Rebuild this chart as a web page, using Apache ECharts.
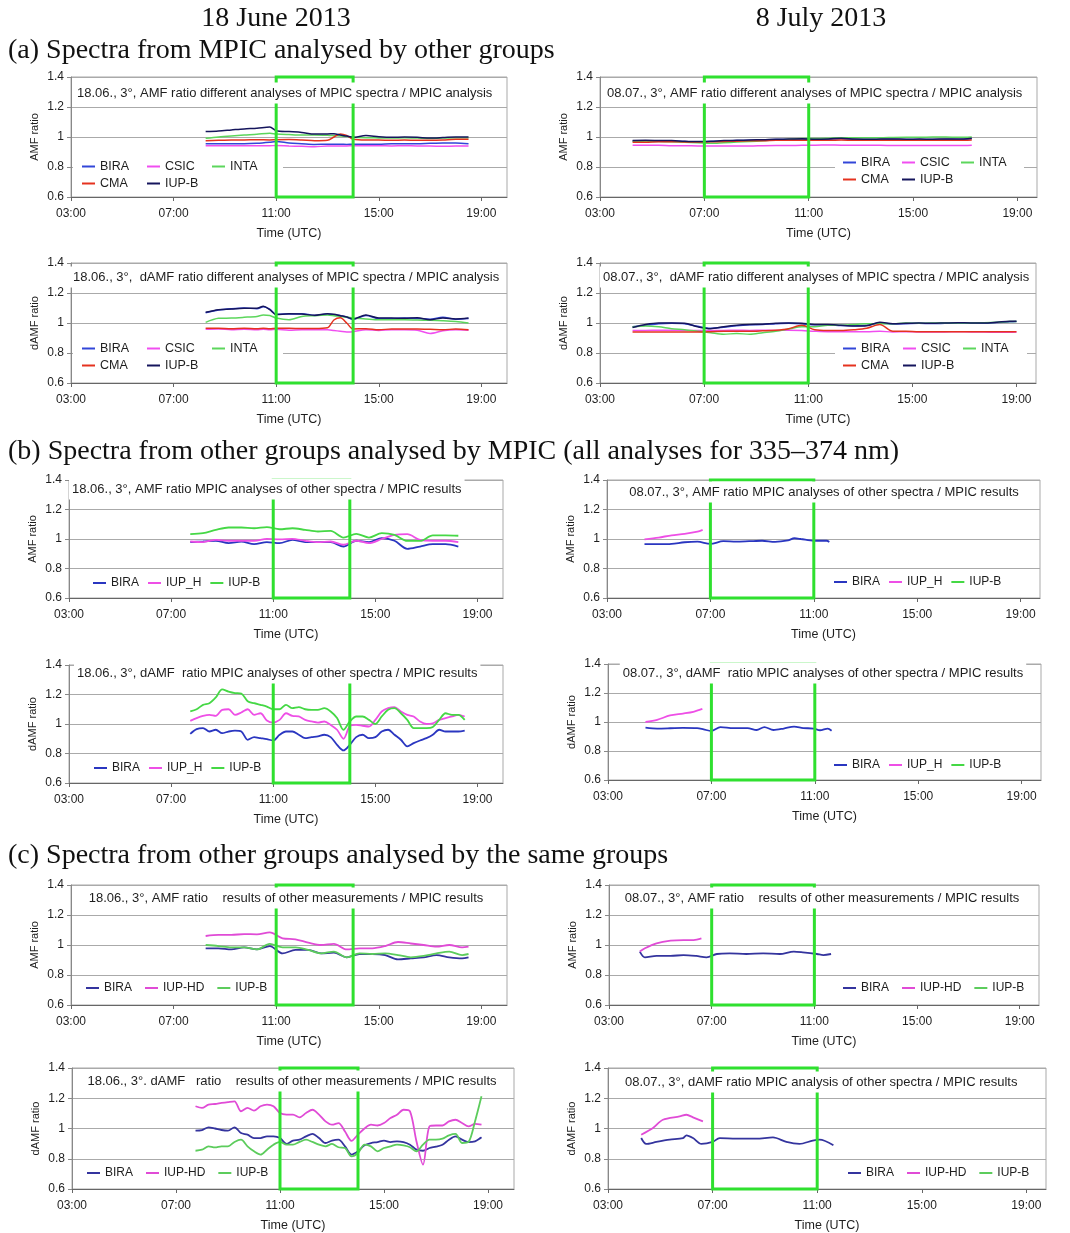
<!DOCTYPE html>
<html>
<head>
<meta charset="utf-8">
<script src="https://cdn.jsdelivr.net/npm/echarts@6/dist/echarts.min.js"></script>
<style>
  html, body { margin: 0; padding: 0; background: #fff; }
  #chart { width: 1070px; height: 1233px; }
</style>
</head>
<body>
<div id="chart"></div>
<script>
// ---------------------------------------------------------------
// Tick values
// ---------------------------------------------------------------
const hourTicks = [3, 7, 11, 15, 19];

// Highlighted periods (hours UTC)
const box18 = [11, 14];
const box08 = [7, 11];

// ---------------------------------------------------------------
// (a) Spectra from MPIC analysed by other groups
// ---------------------------------------------------------------
// 18 June, AMF ratio
const tA18amf = [8.25, 8.75, 9.25, 9.75, 10.25, 10.75, 11.0, 11.5, 12.0, 12.5, 13.0, 13.25, 13.5, 13.75, 14.0, 14.5, 15.0, 15.5, 16.0, 16.5, 17.0, 17.5, 18.0, 18.5];
const a18amfBIRA = [0.955, 0.955, 0.955, 0.955, 0.958, 0.965, 0.970, 0.960, 0.955, 0.950, 0.952, 0.952, 0.952, 0.950, 0.952, 0.952, 0.952, 0.955, 0.955, 0.955, 0.958, 0.960, 0.960, 0.955];
const a18amfCSIC = [0.942, 0.942, 0.942, 0.942, 0.942, 0.942, 0.943, 0.940, 0.938, 0.935, 0.940, 0.940, 0.940, 0.940, 0.942, 0.942, 0.942, 0.940, 0.942, 0.940, 0.940, 0.938, 0.940, 0.940];
const a18amfINTA = [0.991, 1.000, 1.007, 1.013, 1.018, 1.025, 1.020, 1.016, 1.013, 1.013, 1.011, 1.010, 1.007, 1.003, 0.998, 0.995, 0.994, 0.993, 0.995, 0.993, 0.990, 0.993, 0.995, 0.995];
const a18amfCMA  = [0.975, 0.978, 0.980, 0.980, 0.982, 0.980, 0.982, 0.983, 0.980, 0.975, 0.978, 1.000, 1.020, 1.010, 0.985, 0.980, 0.980, 0.978, 0.980, 0.978, 0.978, 0.980, 0.985, 0.985];
const a18amfIUPB = [1.036, 1.040, 1.047, 1.054, 1.058, 1.066, 1.042, 1.036, 1.030, 1.020, 1.020, 1.022, 1.013, 1.006, 0.998, 1.010, 1.002, 0.998, 1.000, 0.998, 0.993, 0.996, 1.000, 1.000];

// 18 June, dAMF ratio
const tA18damf = [8.25, 8.75, 9.25, 9.75, 10.25, 10.5, 10.75, 11.0, 11.5, 12.0, 12.5, 13.0, 13.25, 13.5, 13.75, 14.0, 14.5, 15.0, 15.5, 16.0, 16.5, 17.0, 17.5, 18.0, 18.5];
const a18damfBIRA = [1.068, 1.086, 1.095, 1.100, 1.095, 1.108, 1.092, 1.058, 1.060, 1.062, 1.050, 1.060, 1.055, 1.050, 1.038, 1.025, 1.050, 1.030, 1.030, 1.033, 1.030, 1.025, 1.038, 1.025, 1.030];
const a18damfCSIC = [0.958, 0.960, 0.955, 0.958, 0.955, 0.958, 0.955, 0.958, 0.952, 0.955, 0.955, 0.955, 0.950, 0.945, 0.940, 0.942, 0.955, 0.950, 0.955, 0.955, 0.952, 0.930, 0.948, 0.955, 0.952];
const a18damfINTA = [1.004, 1.031, 1.033, 1.038, 1.044, 1.053, 1.050, 1.033, 1.022, 1.044, 1.049, 1.053, 1.049, 1.044, 1.040, 1.033, 1.027, 1.022, 1.022, 1.022, 1.020, 1.018, 1.015, 1.010, 1.000];
const a18damfCMA  = [0.965, 0.965, 0.962, 0.965, 0.962, 0.965, 0.962, 0.965, 0.965, 0.963, 0.963, 0.968, 1.020, 1.035, 1.000, 0.960, 0.962, 0.955, 0.960, 0.960, 0.960, 0.958, 0.955, 0.960, 0.955];
const a18damfIUPB = [1.071, 1.089, 1.093, 1.098, 1.098, 1.111, 1.089, 1.056, 1.062, 1.060, 1.051, 1.062, 1.058, 1.049, 1.040, 1.027, 1.053, 1.033, 1.033, 1.031, 1.035, 1.022, 1.033, 1.027, 1.033];

// 8 July, AMF ratio
const tA08amf = [4.25, 4.75, 5.25, 5.75, 6.25, 6.75, 7.25, 7.75, 8.25, 8.75, 9.25, 9.75, 10.25, 10.75, 11.25, 11.75, 12.25, 12.75, 13.25, 13.75, 14.25, 14.75, 15.25, 15.75, 16.25, 16.75, 17.25];
const a08amfBIRA = [0.974, 0.975, 0.975, 0.974, 0.970, 0.968, 0.970, 0.973, 0.976, 0.978, 0.980, 0.983, 0.984, 0.985, 0.984, 0.985, 0.988, 0.984, 0.983, 0.984, 0.985, 0.983, 0.984, 0.983, 0.985, 0.984, 0.988];
const a08amfCSIC = [0.945, 0.945, 0.945, 0.942, 0.942, 0.940, 0.940, 0.940, 0.940, 0.940, 0.942, 0.943, 0.943, 0.945, 0.945, 0.947, 0.945, 0.945, 0.945, 0.945, 0.943, 0.943, 0.943, 0.943, 0.943, 0.943, 0.945];
const a08amfINTA = [0.970, 0.972, 0.970, 0.968, 0.965, 0.962, 0.958, 0.962, 0.966, 0.970, 0.975, 0.980, 0.985, 0.990, 0.990, 0.992, 0.995, 0.995, 0.995, 0.995, 0.997, 0.998, 0.998, 1.000, 1.000, 0.998, 1.000];
const a08amfCMA  = [0.965, 0.965, 0.968, 0.968, 0.967, 0.967, 0.968, 0.970, 0.972, 0.975, 0.975, 0.978, 0.978, 0.978, 0.978, 0.978, 0.980, 0.978, 0.978, 0.978, 0.978, 0.978, 0.978, 0.978, 0.978, 0.978, 0.980];
const a08amfIUPB = [0.977, 0.978, 0.977, 0.976, 0.972, 0.970, 0.972, 0.976, 0.978, 0.980, 0.982, 0.985, 0.986, 0.988, 0.985, 0.987, 0.992, 0.986, 0.985, 0.986, 0.987, 0.985, 0.986, 0.985, 0.987, 0.986, 0.992];

// 8 July, dAMF ratio
const tA08damf = [4.25, 4.75, 5.25, 5.75, 6.25, 6.75, 7.25, 7.75, 8.25, 8.75, 9.25, 9.75, 10.25, 10.75, 11.25, 11.75, 12.25, 12.75, 13.25, 13.75, 14.25, 14.75, 15.25, 15.75, 16.25, 16.75, 17.25, 17.75, 18.25, 18.75, 19.0];
const a08damfBIRA = [0.975, 0.985, 0.995, 0.998, 0.995, 0.978, 0.965, 0.972, 0.982, 0.988, 0.990, 0.995, 0.998, 0.995, 0.988, 0.988, 0.983, 0.982, 0.985, 1.000, 0.993, 0.995, 0.998, 0.996, 0.998, 1.000, 0.998, 0.998, 1.003, 1.008, 1.010];
const a08damfCSIC = [0.950, 0.950, 0.952, 0.952, 0.950, 0.950, 0.950, 0.950, 0.952, 0.950, 0.952, 0.950, 0.952, 0.950, 0.945, 0.942, 0.942, 0.942, 0.942, 0.945, 0.940, 0.942, 0.940, 0.940, 0.940, 0.942, 0.940, 0.940, 0.938, 0.938, 0.940];
const a08damfINTA = [0.975, 0.980, 0.975, 0.962, 0.955, 0.945, 0.935, 0.925, 0.930, 0.925, 0.935, 0.945, 0.960, 0.975, 0.975, 0.985, 0.985, 0.990, 0.995, 0.995, 0.995, 1.000, 0.998, 1.000, 1.000, 1.000, 1.000, 1.002, 1.005, 1.010, 1.010];
const a08damfCMA  = [0.940, 0.940, 0.940, 0.940, 0.940, 0.940, 0.942, 0.945, 0.945, 0.945, 0.948, 0.952, 0.962, 0.985, 0.955, 0.950, 0.950, 0.955, 0.965, 0.990, 0.945, 0.945, 0.942, 0.942, 0.942, 0.942, 0.942, 0.942, 0.942, 0.942, 0.942];
const a08damfIUPB = [0.970, 0.990, 1.000, 1.000, 0.998, 0.975, 0.962, 0.975, 0.985, 0.990, 0.992, 0.998, 1.000, 0.998, 0.990, 0.990, 0.985, 0.980, 0.982, 1.005, 0.995, 0.998, 1.000, 0.998, 1.000, 1.002, 1.000, 1.000, 1.005, 1.012, 1.012];

// ---------------------------------------------------------------
// (b) Spectra from other groups analysed by MPIC
// ---------------------------------------------------------------
const tB18amf = [7.75, 8.25, 8.75, 9.25, 9.75, 10.25, 10.75, 11.25, 11.75, 12.25, 12.75, 13.25, 13.75, 14.25, 14.75, 15.25, 15.75, 16.25, 16.75, 17.25, 17.75, 18.25];
const b18amfBIRA = [0.979, 0.983, 0.988, 0.972, 0.983, 0.965, 0.979, 0.972, 0.994, 0.979, 0.979, 0.979, 0.949, 0.988, 0.979, 1.006, 0.988, 0.933, 0.949, 0.965, 0.965, 0.949];
const b18amfIUPH = [0.983, 0.979, 0.994, 0.988, 0.988, 0.988, 1.001, 0.997, 1.001, 0.988, 0.979, 0.983, 0.961, 0.988, 0.972, 1.000, 1.028, 1.033, 0.994, 0.988, 0.988, 0.979];
const b18amfIUPB = [1.033, 1.040, 1.062, 1.078, 1.078, 1.073, 1.080, 1.066, 1.073, 1.062, 1.051, 1.055, 1.010, 1.035, 1.010, 1.040, 1.028, 0.987, 0.987, 1.024, 1.024, 1.022];

const tB18damf = [7.75, 8.0, 8.25, 8.5, 8.75, 9.0, 9.25, 9.5, 9.75, 10.0, 10.25, 10.5, 10.75, 11.0, 11.25, 11.5, 11.75, 12.0, 12.25, 12.5, 12.75, 13.0, 13.25, 13.5, 13.75, 14.0, 14.25, 14.5, 14.75, 15.0, 15.25, 15.5, 15.75, 16.0, 16.25, 16.5, 16.75, 17.0, 17.25, 17.5, 17.75, 18.0, 18.25, 18.5];
const b18damfBIRA = [0.933, 0.965, 0.972, 0.949, 0.961, 0.938, 0.949, 0.955, 0.949, 0.893, 0.911, 0.904, 0.897, 0.888, 0.927, 0.949, 0.949, 0.927, 0.904, 0.911, 0.916, 0.927, 0.911, 0.859, 0.821, 0.859, 0.911, 0.927, 0.904, 0.911, 0.949, 0.961, 0.927, 0.893, 0.848, 0.870, 0.888, 0.904, 0.927, 0.961, 0.949, 0.949, 0.949, 0.955];
const b18damfIUPH = [1.021, 1.040, 1.055, 1.062, 1.055, 1.096, 1.100, 1.062, 1.078, 1.100, 1.062, 1.073, 1.024, 1.010, 1.028, 1.073, 1.055, 1.051, 1.028, 1.017, 1.010, 1.017, 0.994, 0.961, 0.900, 0.985, 0.994, 0.988, 0.983, 1.028, 1.085, 1.107, 1.114, 1.085, 1.062, 1.051, 1.017, 1.000, 1.005, 1.028, 1.040, 1.051, 1.062, 1.051];
const b18damfIUPB = [1.085, 1.100, 1.130, 1.141, 1.180, 1.235, 1.220, 1.210, 1.206, 1.154, 1.141, 1.130, 1.118, 1.100, 1.100, 1.130, 1.107, 1.114, 1.100, 1.096, 1.096, 1.107, 1.085, 1.040, 0.961, 1.017, 1.051, 1.051, 1.028, 1.000, 1.051, 1.096, 1.107, 1.073, 1.028, 0.972, 0.972, 0.972, 0.979, 1.028, 1.073, 1.062, 1.062, 1.028];

const tB08amfBIRA = [4.45, 5.0, 5.5, 6.0, 6.5, 7.0, 7.5, 8.0, 8.5, 9.0, 9.5, 10.0, 10.25, 10.5, 11.0, 11.5, 11.6];
const b08amfBIRA  = [0.965, 0.965, 0.967, 0.978, 0.982, 0.967, 0.985, 0.982, 0.985, 0.988, 0.980, 0.990, 1.005, 1.000, 0.988, 0.988, 0.980];
const tB08amfIUPH = [4.45, 5.0, 5.5, 6.0, 6.5, 6.7];
const b08amfIUPH  = [0.997, 1.010, 1.025, 1.035, 1.050, 1.062];

const tB08damfBIRA = [4.45, 4.9, 5.4, 5.9, 6.45, 6.7, 7.0, 7.35, 7.85, 8.4, 8.75, 9.05, 9.4, 9.8, 10.2, 10.55, 10.95, 11.2, 11.5, 11.65];
const b08damfBIRA  = [0.961, 0.955, 0.957, 0.960, 0.958, 0.949, 0.938, 0.965, 0.958, 0.958, 0.945, 0.965, 0.945, 0.955, 0.968, 0.958, 0.955, 0.943, 0.955, 0.940];
const tB08damfIUPH = [4.45, 4.9, 5.4, 5.9, 6.3, 6.65];
const b08damfIUPH  = [1.000, 1.015, 1.045, 1.058, 1.070, 1.090];

// ---------------------------------------------------------------
// (c) Spectra from other groups analysed by the same groups
// ---------------------------------------------------------------
const tC18amf = [8.25, 8.75, 9.25, 9.75, 10.25, 10.75, 11.25, 11.75, 12.25, 12.75, 13.25, 13.75, 14.25, 14.75, 15.25, 15.75, 16.25, 16.75, 17.25, 17.75, 18.25, 18.5];
const c18amfBIRA  = [0.978, 0.978, 0.971, 0.984, 0.971, 0.993, 0.944, 0.967, 0.967, 0.944, 0.949, 0.918, 0.940, 0.940, 0.933, 0.904, 0.911, 0.918, 0.933, 0.918, 0.911, 0.918];
const c18amfIUPHD = [1.060, 1.067, 1.067, 1.073, 1.071, 1.084, 1.044, 1.038, 1.016, 1.000, 1.007, 0.971, 0.978, 0.978, 0.993, 1.020, 1.010, 1.000, 0.989, 1.000, 0.984, 0.989];
const c18amfIUPB  = [1.000, 0.993, 0.984, 0.984, 0.971, 1.007, 0.984, 0.984, 0.967, 0.944, 0.956, 0.918, 0.944, 0.940, 0.944, 0.933, 0.918, 0.927, 0.944, 0.956, 0.933, 0.940];

const tC18damf = [7.75, 8.0, 8.25, 8.5, 8.75, 9.0, 9.25, 9.5, 9.75, 10.0, 10.25, 10.5, 10.75, 11.0, 11.25, 11.5, 11.75, 12.0, 12.25, 12.5, 12.75, 13.0, 13.25, 13.5, 13.75, 14.0, 14.25, 14.5, 14.75, 15.0, 15.25, 15.5, 15.75, 16.0, 16.25, 16.5, 16.75, 17.0, 17.25, 17.5, 17.75, 18.0, 18.25, 18.5, 18.75];
const c18damfBIRA  = [0.986, 0.990, 1.008, 1.000, 0.990, 0.986, 1.008, 0.970, 0.959, 0.937, 0.937, 0.948, 0.948, 0.937, 0.898, 0.920, 0.926, 0.948, 0.965, 0.937, 0.904, 0.920, 0.926, 0.882, 0.827, 0.849, 0.889, 0.904, 0.910, 0.920, 0.910, 0.915, 0.910, 0.893, 0.860, 0.853, 0.871, 0.880, 0.893, 0.926, 0.948, 0.926, 0.910, 0.915, 0.942];
const c18damfIUPHD = [1.147, 1.136, 1.158, 1.162, 1.169, 1.175, 1.180, 1.114, 1.136, 1.118, 1.147, 1.158, 1.147, 1.102, 1.092, 1.092, 1.074, 1.102, 1.124, 1.092, 1.047, 1.025, 1.036, 0.980, 0.918, 0.960, 1.000, 1.025, 1.020, 1.036, 1.069, 1.091, 1.124, 1.113, 0.914, 0.761, 1.014, 1.020, 1.020, 1.047, 1.058, 1.036, 1.014, 1.030, 1.025];
const c18damfIUPB  = [0.853, 0.860, 0.882, 0.875, 0.882, 0.882, 0.911, 0.926, 0.882, 0.849, 0.827, 0.860, 0.893, 0.911, 0.893, 0.893, 0.911, 0.926, 0.911, 0.893, 0.882, 0.898, 0.876, 0.871, 0.816, 0.838, 0.893, 0.882, 0.849, 0.871, 0.882, 0.893, 0.888, 0.876, 0.849, 0.893, 0.926, 0.926, 0.933, 0.955, 0.964, 0.904, 0.911, 1.047, 1.213];

const tC08amfBIRA  = [4.2, 4.4, 4.85, 5.4, 5.9, 6.4, 6.8, 7.2, 7.7, 8.35, 9.0, 9.65, 10.2, 10.55, 11.1, 11.35, 11.65];
const c08amfBIRA   = [0.956, 0.918, 0.927, 0.927, 0.933, 0.927, 0.918, 0.940, 0.944, 0.940, 0.944, 0.940, 0.956, 0.951, 0.940, 0.933, 0.940];
const tC08amfIUPHD = [4.2, 4.4, 4.85, 5.4, 5.9, 6.3, 6.6];
const c08amfIUPHD  = [0.956, 0.978, 1.011, 1.029, 1.033, 1.033, 1.044];

const tC08damfBIRA  = [4.27, 4.46, 4.85, 5.36, 5.87, 6.0, 6.25, 6.57, 7.0, 7.27, 7.9, 8.67, 9.31, 9.82, 10.32, 10.83, 11.09, 11.62];
const c08damfBIRA   = [0.937, 0.898, 0.911, 0.926, 0.937, 0.955, 0.937, 0.898, 0.911, 0.937, 0.933, 0.933, 0.941, 0.911, 0.898, 0.920, 0.926, 0.889];
const tC08damfIUPHD = [4.27, 4.72, 5.1, 5.74, 6.0, 6.25, 6.63];
const c08damfIUPHD  = [0.959, 1.003, 1.058, 1.080, 1.091, 1.074, 1.047];

// ---------------------------------------------------------------
// Styling
// ---------------------------------------------------------------
const SANS = 'Liberation Sans, Arial, sans-serif';
const SERIF = 'Liberation Serif, Times New Roman, serif';
const TXT = '#1e1e1e';
const BOX_GREEN = '#2fe02f';
const CAPTION_SIZE = 13;
const COL_A = { 'BIRA': '#3246d8', 'CSIC': '#f04ef0', 'INTA': '#5cd65c', 'CMA': '#e5321f', 'IUP-B': '#15155c' };
const COL_B = { 'BIRA': '#2a36c0', 'IUP_H': '#ee4fe6', 'IUP-B': '#45d845' };
const COL_C = { 'BIRA': '#34349e', 'IUP-HD': '#e04bd6', 'IUP-B': '#5ccc5c' };

// One entry per small chart: layout, labels and which arrays it plots
const panels = [
  { grid: { left: 71, top: 77, width: 436, height: 120 }, xMax: 20, yName: 'AMF ratio', box: box18,
    title: { text: '18.06., 3°, AMF ratio different analyses of MPIC spectra / MPIC analysis', x: 77, cy: 93, align: 'left' },
    colors: COL_A, lw: 1.5,
    lines: [['BIRA', tA18amf, a18amfBIRA], ['CSIC', tA18amf, a18amfCSIC], ['INTA', tA18amf, a18amfINTA], ['CMA', tA18amf, a18amfCMA], ['IUP-B', tA18amf, a18amfIUPB]],
    legend: { left: 73, top: 156, colW: 65, font: 12.5, pad: [4, 10, 4, 9] } },
  { grid: { left: 600, top: 77, width: 437, height: 120 }, xMax: 19.75, yName: 'AMF ratio', box: box08,
    title: { text: '08.07., 3°, AMF ratio different analyses of MPIC spectra / MPIC analysis', x: 607, cy: 93, align: 'left' },
    colors: COL_A, lw: 1.5,
    lines: [['BIRA', tA08amf, a08amfBIRA], ['CSIC', tA08amf, a08amfCSIC], ['INTA', tA08amf, a08amfINTA], ['CMA', tA08amf, a08amfCMA], ['IUP-B', tA08amf, a08amfIUPB]],
    legend: { left: 835, top: 152, colW: 59, font: 12.5, pad: [4, 8, 4, 8] } },
  { grid: { left: 71, top: 263, width: 436, height: 120 }, xMax: 20, yName: 'dAMF ratio', box: box18,
    title: { text: '18.06., 3°,  dAMF ratio different analyses of MPIC spectra / MPIC analysis', x: 73, cy: 277, align: 'left' },
    colors: COL_A, lw: 1.5,
    lines: [['BIRA', tA18damf, a18damfBIRA], ['CSIC', tA18damf, a18damfCSIC], ['INTA', tA18damf, a18damfINTA], ['CMA', tA18damf, a18damfCMA], ['IUP-B', tA18damf, a18damfIUPB]],
    legend: { left: 73, top: 338, colW: 65, font: 12.5, pad: [4, 10, 4, 9] } },
  { grid: { left: 600, top: 263, width: 436, height: 120 }, xMax: 19.75, yName: 'dAMF ratio', box: box08,
    title: { text: '08.07., 3°,  dAMF ratio different analyses of MPIC spectra / MPIC analysis', x: 603, cy: 277, align: 'left' },
    colors: COL_A, lw: 1.5,
    lines: [['BIRA', tA08damf, a08damfBIRA], ['CSIC', tA08damf, a08damfCSIC], ['INTA', tA08damf, a08damfINTA], ['CMA', tA08damf, a08damfCMA], ['IUP-B', tA08damf, a08damfIUPB]],
    legend: { left: 835, top: 338, colW: 60, font: 12.5, pad: [4, 8, 4, 8] } },

  { grid: { left: 69, top: 480, width: 434, height: 118 }, xMax: 20, yName: 'AMF ratio', box: box18,
    title: { text: '18.06., 3°, AMF ratio MPIC analyses of other spectra / MPIC results', x: 72, cy: 489, align: 'left' },
    colors: COL_B, lw: 1.8,
    lines: [['BIRA', tB18amf, b18amfBIRA], ['IUP_H', tB18amf, b18amfIUPH], ['IUP-B', tB18amf, b18amfIUPB]],
    legend: { left: 89, top: 574, font: 12, gap: 9 } },
  { grid: { left: 607, top: 480, width: 433, height: 118 }, xMax: 19.75, yName: 'AMF ratio', box: box08,
    title: { text: '08.07., 3°, AMF ratio MPIC analyses of other spectra / MPIC results', x: 824, cy: 492, align: 'center' },
    colors: COL_B, lw: 1.8,
    lines: [['BIRA', tB08amfBIRA, b08amfBIRA], ['IUP_H', tB08amfIUPH, b08amfIUPH], ['IUP-B', [], []]],
    legend: { left: 830, top: 573, font: 12, gap: 9 } },
  { grid: { left: 69, top: 665, width: 434, height: 118 }, xMax: 20, yName: 'dAMF ratio', box: box18,
    title: { text: '18.06., 3°, dAMF  ratio MPIC analyses of other spectra / MPIC results', x: 77, cy: 673, align: 'left' },
    colors: COL_B, lw: 1.8,
    lines: [['BIRA', tB18damf, b18damfBIRA], ['IUP_H', tB18damf, b18damfIUPH], ['IUP-B', tB18damf, b18damfIUPB]],
    legend: { left: 90, top: 759, font: 12, gap: 9 } },
  { grid: { left: 608, top: 664, width: 433, height: 116 }, xMax: 19.75, yName: 'dAMF ratio', box: box08,
    title: { text: '08.07., 3°, dAMF  ratio MPIC analyses of other spectra / MPIC results', x: 823, cy: 673, align: 'center' },
    colors: COL_B, lw: 1.8,
    lines: [['BIRA', tB08damfBIRA, b08damfBIRA], ['IUP_H', tB08damfIUPH, b08damfIUPH], ['IUP-B', [], []]],
    legend: { left: 830, top: 756, font: 12, gap: 9 } },

  { grid: { left: 71, top: 885, width: 436, height: 120 }, xMax: 20, yName: 'AMF ratio', box: box18,
    title: { text: '18.06., 3°, AMF ratio    results of other measurements / MPIC results', x: 286, cy: 898, align: 'center' },
    colors: COL_C, lw: 1.8,
    lines: [['BIRA', tC18amf, c18amfBIRA], ['IUP-HD', tC18amf, c18amfIUPHD], ['IUP-B', tC18amf, c18amfIUPB]],
    legend: { left: 82, top: 979, font: 12, gap: 13 } },
  { grid: { left: 609, top: 885, width: 430, height: 120 }, xMax: 19.75, yName: 'AMF ratio', box: box08,
    title: { text: '08.07., 3°, AMF ratio    results of other measurements / MPIC results', x: 822, cy: 898, align: 'center' },
    colors: COL_C, lw: 1.8,
    lines: [['BIRA', tC08amfBIRA, c08amfBIRA], ['IUP-HD', tC08amfIUPHD, c08amfIUPHD], ['IUP-B', [], []]],
    legend: { left: 839, top: 979, font: 12, gap: 13 } },
  { grid: { left: 72, top: 1068, width: 442, height: 121 }, xMax: 20, yName: 'dAMF ratio', box: box18,
    title: { text: '18.06., 3°. dAMF   ratio    results of other measurements / MPIC results', x: 292, cy: 1081, align: 'center' },
    colors: COL_C, lw: 1.8,
    lines: [['BIRA', tC18damf, c18damfBIRA], ['IUP-HD', tC18damf, c18damfIUPHD], ['IUP-B', tC18damf, c18damfIUPB]],
    legend: { left: 83, top: 1164, font: 12, gap: 13 } },
  { grid: { left: 608, top: 1068, width: 438, height: 121 }, xMax: 19.75, yName: 'dAMF ratio', box: box08,
    title: { text: '08.07., 3°, dAMF ratio MPIC analysis of other spectra / MPIC results', x: 625, cy: 1082, align: 'left' },
    colors: COL_C, lw: 1.8,
    lines: [['BIRA', tC08damfBIRA, c08damfBIRA], ['IUP-HD', tC08damfIUPHD, c08damfIUPHD], ['IUP-B', [], []]],
    legend: { left: 844, top: 1164, font: 12, gap: 13 } }
];

// Page headings
const headings = [
  { text: '18 June 2013', x: 276, cy: 19, align: 'center' },
  { text: '8 July 2013', x: 821, cy: 19, align: 'center' },
  { text: '(a) Spectra from MPIC analysed by other groups', x: 8, cy: 51, align: 'left' },
  { text: '(b) Spectra from other groups analysed by MPIC (all analyses for 335\u2013374 nm)', x: 8, cy: 452, align: 'left' },
  { text: '(c) Spectra from other groups analysed by the same groups', x: 8, cy: 856, align: 'left' }
];

// ---------------------------------------------------------------
// Build option
// ---------------------------------------------------------------
const hourLabel = v => (v < 10 ? '0' : '') + v + ':00';
const ratioLabel = v => String(Math.round(v * 10) / 10);
const baseName = n => n.split('#')[0];

const option = {
  backgroundColor: '#fff',
  animation: false,
  grid: [], xAxis: [], yAxis: [], series: [], legend: [], title: []
};

headings.forEach(h => {
  option.title.push({
    text: h.text, left: h.x, top: h.cy - 14, textAlign: h.align, padding: 0,
    textStyle: { fontFamily: SERIF, fontSize: 28, fontWeight: 'normal', color: '#111', lineHeight: 28 }
  });
});

panels.forEach((p, i) => {
  option.grid.push(Object.assign({
    show: true, borderColor: '#a9a9a9', borderWidth: 1, containLabel: false, outerBoundsMode: 'none'
  }, p.grid));

  option.xAxis.push({
    gridIndex: i, type: 'value', min: 3, max: p.xMax,
    name: 'Time (UTC)', nameLocation: 'middle', nameGap: 30,
    nameTextStyle: { fontFamily: SANS, fontSize: 12.5, color: TXT },
    axisLine: { show: true, lineStyle: { color: '#666', width: 1 } },
    axisTick: { show: true, customValues: hourTicks, length: 4, lineStyle: { color: '#666' } },
    axisLabel: { customValues: hourTicks, formatter: hourLabel, margin: 11, fontFamily: SANS, fontSize: 12, color: TXT },
    splitLine: { show: false }
  });

  option.yAxis.push({
    gridIndex: i, type: 'value', min: 0.6, max: 1.4, interval: 0.2,
    name: p.yName, nameLocation: 'middle', nameGap: 31, nameRotate: 90,
    nameTextStyle: { fontFamily: SANS, fontSize: 11, color: TXT },
    axisLine: { show: true, lineStyle: { color: '#888' } },
    axisTick: { show: true, length: 4, lineStyle: { color: '#888' } },
    axisLabel: { formatter: ratioLabel, margin: 7, fontFamily: SANS, fontSize: 12, color: TXT },
    splitLine: { show: true, lineStyle: { color: '#aaa', width: 1 } }
  });

  const names = [];
  p.lines.forEach(([label, t, v]) => {
    const name = label + '#' + i;
    names.push(name);
    const color = p.colors[label];
    option.series.push({
      type: 'line', name, xAxisIndex: i, yAxisIndex: i,
      data: t.map((h, k) => [h, v[k]]),
      showSymbol: false, symbol: 'none', smooth: 0.3,
      lineStyle: { color, width: p.lw }, itemStyle: { color },
      z: 3
    });
  });

  // highlighted period frame
  const [b0, b1] = p.box;
  option.series.push({
    type: 'line', xAxisIndex: i, yAxisIndex: i, silent: true, clip: false,
    data: [[b0, 0.6], [b0, 1.4], [b1, 1.4], [b1, 0.6], [b0, 0.6]],
    symbol: 'none', lineStyle: { color: BOX_GREEN, width: 3, join: 'miter', cap: 'square' }, z: 4
  });

  // in-plot caption on a white box
  option.title.push({
    text: p.title.text, left: p.title.x - 3, top: p.title.cy - 7.5 - 3, textAlign: p.title.align,
    padding: [3, 3, 3, 3], backgroundColor: '#fff',
    textStyle: { fontFamily: SANS, fontSize: CAPTION_SIZE, fontWeight: 'normal', color: TXT, lineHeight: 15 }
  });

  const L = p.legend;
  if (L.colW) {
    const tw = L.colW - 13 - 5 - 4;
    option.legend.push({
      data: names, left: L.left, top: L.top, width: 3 * L.colW + 2,
      orient: 'horizontal', icon: 'rect', itemWidth: 13, itemHeight: 2, itemGap: 4,
      padding: L.pad, backgroundColor: '#fff', selectedMode: false,
      formatter: n => '{c|' + baseName(n) + '}',
      textStyle: { color: TXT, fontFamily: SANS, fontSize: L.font,
        rich: { c: { width: tw, lineHeight: 14, fontFamily: SANS, fontSize: L.font, color: TXT } } }
    });
  } else {
    option.legend.push({
      data: names, left: L.left, top: L.top,
      orient: 'horizontal', icon: 'rect', itemWidth: 13, itemHeight: 2, itemGap: L.gap,
      padding: [2, 4, 2, 4], backgroundColor: '#fff', selectedMode: false,
      formatter: baseName,
      textStyle: { color: TXT, fontFamily: SANS, fontSize: L.font, lineHeight: 14 }
    });
  }
});

const chart = echarts.init(document.getElementById('chart'), null, { renderer: 'canvas' });
chart.setOption(option);
</script>
</body>
</html>
